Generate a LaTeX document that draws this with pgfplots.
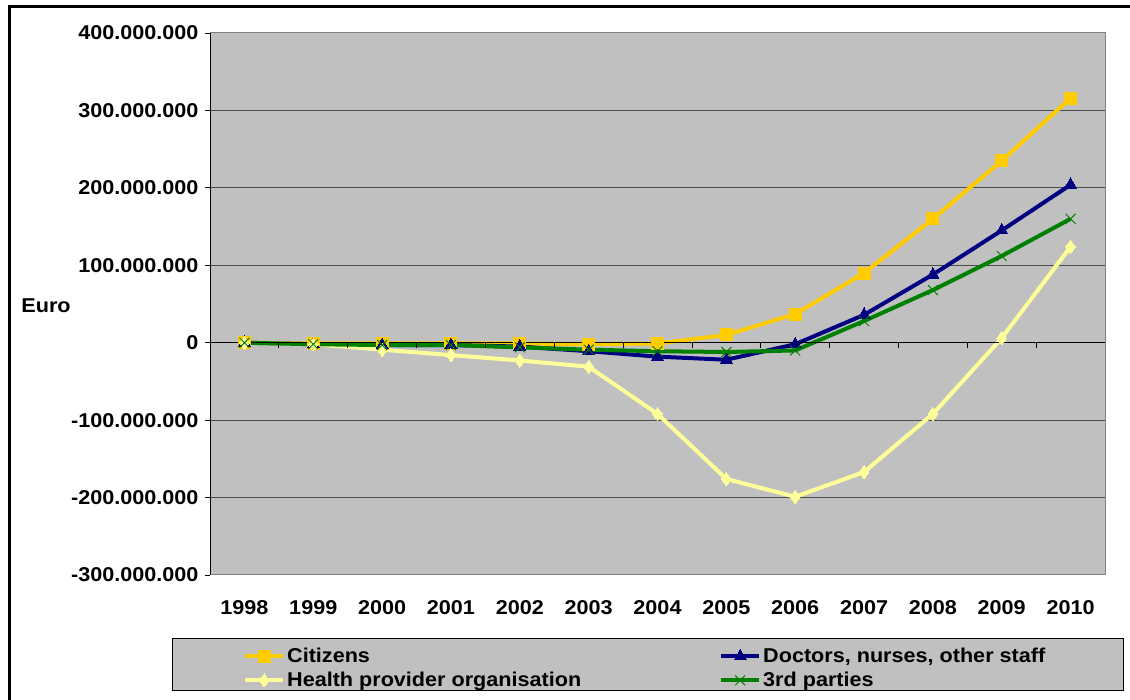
\documentclass[border=0pt]{standalone}
\usepackage{fontspec}
\setmainfont{Liberation Sans}
\usepackage{graphicx}
\usepackage{pgfplots}
\pgfplotsset{compat=1.18}
\definecolor{cit}{HTML}{FFCC00}
\definecolor{doc}{HTML}{000080}
\definecolor{hpo}{HTML}{FFFF99}
\definecolor{trd}{HTML}{008000}
\definecolor{plotbg}{HTML}{C0C0C0}
\definecolor{frame}{HTML}{808080}
\newcommand{\lbl}{\fontsize{20}{24}\selectfont\bfseries}
\newcommand{\sx}[1]{\scalebox{1.08}[1]{#1}}
\begin{document}
\begin{tikzpicture}
\path[use as bounding box] (0pt,0pt) rectangle (1130pt,700pt);
\draw[line width=3pt] (9.5pt,-5pt) -- (9.5pt,693.5pt) -- (1140pt,693.5pt);
\draw[fill=plotbg,draw=black,line width=0.8pt] (172pt,10pt) rectangle (1123pt,62pt);
\node[font=\lbl] at (46pt,394pt) {\sx{Euro}};
\begin{axis}[
  at={(210pt,125pt)}, anchor=south west,
  scale only axis, width=895pt, height=542pt,
  xmin=-0.5, xmax=12.5, ymin=-300, ymax=400,
  axis background/.style={fill=plotbg},
  axis line style={draw=frame, line width=1pt},
  xtick={0,...,12},
  xticklabels={\sx{1998},\sx{1999},\sx{2000},\sx{2001},\sx{2002},\sx{2003},\sx{2004},\sx{2005},\sx{2006},\sx{2007},\sx{2008},\sx{2009},\sx{2010}},
  ytick={-300,-200,-100,0,100,200,300,400},
  yticklabels={\sx{-300.000.000},\sx{-200.000.000},\sx{-100.000.000},\sx{0},\sx{100.000.000},\sx{200.000.000},\sx{300.000.000},\sx{400.000.000}},
  /pgf/number format/assume math mode=true,
  xtick style={draw=none},
  ytick pos=left, tick align=outside,
  ytick style={draw=black, line width=0.8pt},
  major tick length=5pt,
  ymajorgrids, grid style={draw=black!70, line width=1pt},
  tick label style={font=\lbl},
  yticklabel style={xshift=-3pt},
  xticklabel style={yshift=-17pt},
  every axis plot/.append style={line width=4pt},
  legend columns=2,
  legend cell align=left,
  legend style={draw=none, fill=none, font=\lbl, at={(0.0335,-0.1275)}, anchor=north west,
    /tikz/column 2/.style={column sep=136pt}, /tikz/every row/.style={row sep=0pt},
    /tikz/row sep=4pt},
  legend image code/.code={\draw[mark repeat=2,mark phase=2,#1] plot coordinates {(0pt,0pt) (19pt,0pt) (38pt,0pt)};},
]
\addplot[cit, mark=square*, mark size=6pt, mark options={solid, fill=cit, draw=cit, line width=0pt}] coordinates {
(0,0) (1,-1) (2,-1) (3,-1) (4,-1) (5,-2) (6,-1) (7,10) (8,37) (9,90) (10,160) (11,235) (12,316)};
\addlegendentry{\sx{Citizens}}
\addplot[doc, mark=triangle*, mark size=7pt, mark options={solid, fill=doc, draw=doc, line width=0pt}] coordinates {
(0,0) (1,-2) (2,-3) (3,-3) (4,-5) (5,-11) (6,-18) (7,-22) (8,-2) (9,36) (10,88) (11,145) (12,204)};
\addlegendentry{\sx{Doctors, nurses, other staff}}
\addplot[hpo, mark=diamond*, mark size=6.5pt, mark options={solid, fill=hpo, draw=hpo, line width=0pt}] coordinates {
(0,0) (1,-2) (2,-9) (3,-16) (4,-23) (5,-31) (6,-92) (7,-176) (8,-199) (9,-167) (10,-92) (11,6) (12,124)};
\addlegendentry{\sx{Health provider organisation}}
\addplot[trd, mark=x, mark size=7pt, mark options={solid, draw=trd, line width=1pt}] coordinates {
(0,0) (1,-2) (2,-3) (3,-3) (4,-6) (5,-9) (6,-11) (7,-12) (8,-10) (9,28) (10,68) (11,112) (12,160)};
\addlegendentry{\sx{3rd parties}}
\draw[black, line width=1pt] (rel axis cs:0,0) -- (rel axis cs:0,1);
\draw[black, line width=1pt] (axis cs:-0.5,0) -- (axis cs:12.5,0);
\pgfplotsinvokeforeach{0.5,1.5,2.5,3.5,4.5,5.5,6.5,7.5,8.5,9.5,10.5,11.5}{
  \draw[black, line width=0.8pt] (axis cs:#1,0) -- ++(0pt,-5pt);
}
\end{axis}
\end{tikzpicture}
\end{document}
